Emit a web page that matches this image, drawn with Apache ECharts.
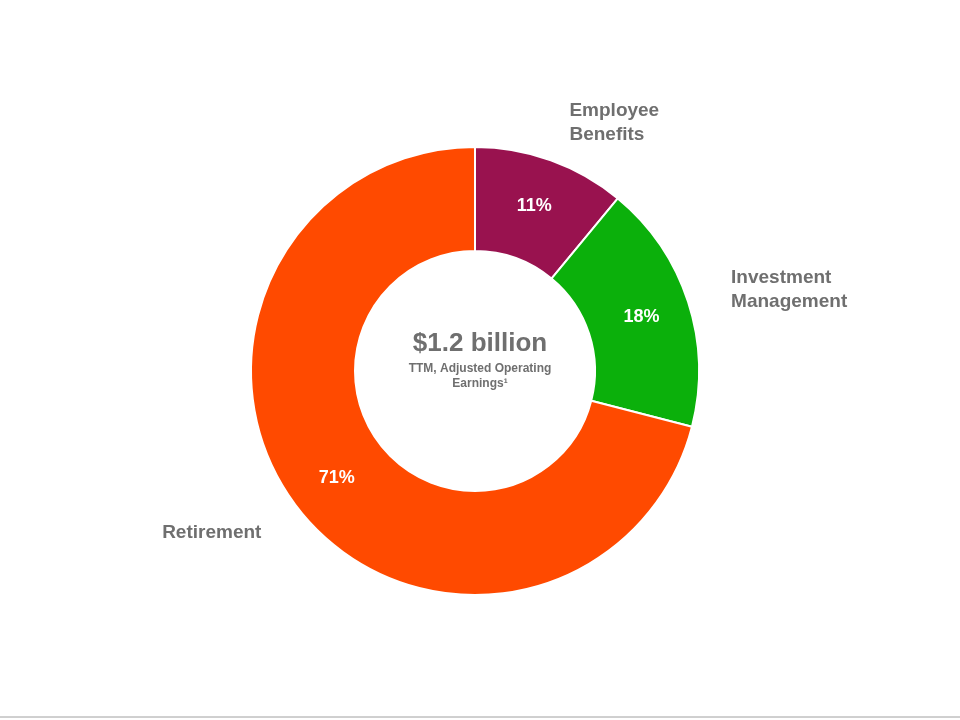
<!DOCTYPE html>
<html>
<head>
<meta charset="utf-8">
<script src="https://cdn.jsdelivr.net/npm/echarts@6/dist/echarts.min.js"></script>
<style>html,body{margin:0;padding:0;background:#fff}#chart{width:960px;height:720px}</style>
</head>
<body>
<div id="chart"></div>
<script>
// segments, clockwise from 12 o'clock
const names = ['Employee\nBenefits', 'Investment\nManagement', 'Retirement']
const values = [11, 18, 71]
const colors = ['#99124f', '#0bb00b', '#ff4a00']

const chart = echarts.init(document.querySelector('#chart'))

const data = names.map((n, i) => ({ name: n, value: values[i], itemStyle: { color: colors[i] } }))

const option = {
    title: {
        text: '$1.2 billion',
        subtext: 'TTM, Adjusted Operating\nEarnings¹',
        left: 475,
        top: 326,
        textAlign: 'center',
        itemGap: 4,
        textStyle: { color: '#6f6f6f', fontSize: 26, fontWeight: 'bold', fontFamily: 'Liberation Sans' },
        subtextStyle: { color: '#6f6f6f', fontSize: 12, fontWeight: 'bold', fontFamily: 'Liberation Sans', lineHeight: 15 }
    },
    graphic: [{
        type: 'line', shape: { x1: 0, y1: 717, x2: 960, y2: 717 },
        style: { stroke: '#a0a0a0', lineWidth: 1 }
    }],
    series: [
        {
            type: 'pie',
            center: [475, 371],
            radius: [120, 224],
            startAngle: 90,
            clockwise: true,
            silent: true,
            itemStyle: { borderColor: '#fff', borderWidth: 2 },
            label: {
                position: 'inside',
                formatter: '{c}%',
                color: '#fff',
                fontSize: 18,
                fontWeight: 'bold',
                fontFamily: 'Liberation Sans'
            },
            labelLine: { show: false },
            data: data
        },
        {
            type: 'pie',
            center: [475, 371],
            radius: [120, 224],
            startAngle: 90,
            clockwise: true,
            silent: true,
            itemStyle: { color: 'transparent' },
            label: {
                position: 'outside',
                formatter: '{b}',
                color: '#6f6f6f',
                fontSize: 19,
                fontWeight: 'bold',
                fontFamily: 'Liberation Sans',
                lineHeight: 24,
                align: 'center'
            },
            labelLine: { show: false, length: 40, length2: 0 },
            data: names.map((n, i) => ({ name: n, value: values[i] }))
        }
    ]
}

chart.setOption(option)
</script>
</body>
</html>
